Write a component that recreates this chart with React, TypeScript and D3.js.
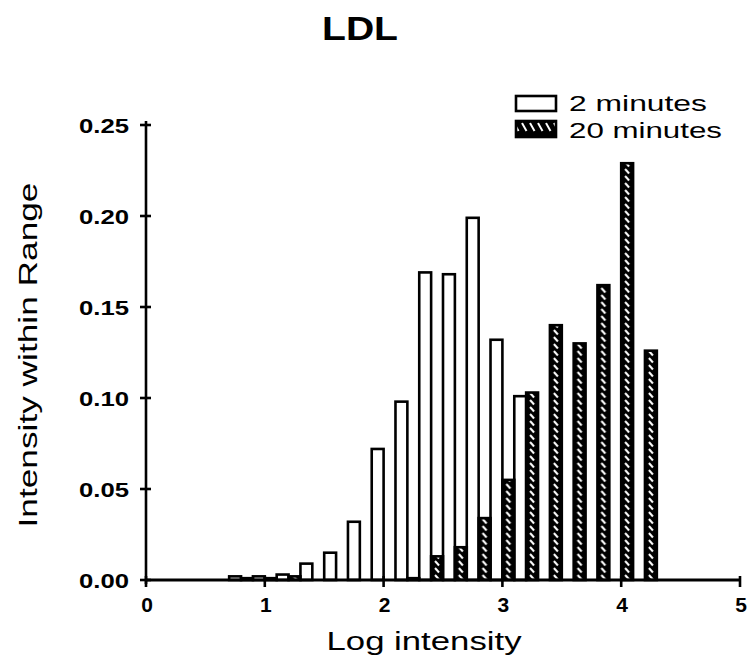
import React from "react";
import * as d3 from "d3";

const binCenters = [0.8, 1.0, 1.2, 1.4, 1.6, 1.8, 2.0, 2.2, 2.4, 2.6, 2.8, 3.0, 3.2, 3.4, 3.6, 3.8, 4.0, 4.2];
const twoMinutes = [0.002, 0.002, 0.003, 0.009, 0.015, 0.032, 0.072, 0.098, 0.169, 0.168, 0.199, 0.132, 0.101, 0, 0, 0, 0, 0];
const twentyMinutes = [0.001, 0.001, 0.002, 0, 0, 0, 0, 0.001, 0.013, 0.018, 0.034, 0.055, 0.103, 0.14, 0.13, 0.162, 0.229, 0.126];
const xTicks = [0, 1, 2, 3, 4, 5];
const yTicks = [0, 0.05, 0.1, 0.15, 0.2, 0.25];
const seriesNames = ["2 minutes", "20 minutes"];
const title = "LDL";
const xTitle = "Log intensity";
const yTitle = "Intensity within Range";

const W = 749;
const H = 664;
const x = d3.scaleLinear().domain([0, 5]).range([146, 740]);
const y = d3.scaleLinear().domain([0, 0.25]).range([580, 125]);
const halfBin = 0.1;
const font = "'Liberation Sans', Arial, Helvetica, sans-serif";

export default function App() {
  const bw = x(halfBin) - x(0);
  const fmt = d3.format(".2f");
  return (
    <svg width={W} height={H} style={{ position: "absolute", left: 0, top: 0, background: "#fff" }}>
      <defs>
        <pattern id="hatch" patternUnits="userSpaceOnUse" x={x(0)} y={0} width={bw} height={7}>
          <rect width={bw} height={7} fill="#000" />
          <line x1={bw / 2 - 2} y1={1} x2={bw / 2 + 2} y2={5.5} stroke="#fff" strokeWidth={2} />
        </pattern>
        <pattern id="hatchLegend" patternUnits="userSpaceOnUse" x={0} y={0} width={8} height={17}>
          <rect width={8} height={17} fill="#000" />
          <line x1={2} y1={4} x2={6.5} y2={12} stroke="#fff" strokeWidth={2} />
        </pattern>
      </defs>

      {/* title */}
      <text x={360} y={40} textAnchor="middle" fontFamily={font} fontWeight="bold" fontSize={33} textLength={76} lengthAdjust="spacingAndGlyphs">
        {title}
      </text>

      {/* bars: 2 minutes */}
      {binCenters.map((c, i) => (
        <rect
          key={"a" + i}
          x={x(c - halfBin)}
          y={y(twoMinutes[i])}
          width={bw}
          height={y(0) - y(twoMinutes[i])}
          fill="#fff"
          stroke="#000"
          strokeWidth={2.6}
        />
      ))}
      {/* bars: 20 minutes */}
      {binCenters.map((c, i) => (
        <rect
          key={"b" + i}
          x={x(c)}
          y={y(twentyMinutes[i])}
          width={bw}
          height={y(0) - y(twentyMinutes[i])}
          fill="url(#hatch)"
          stroke="#000"
          strokeWidth={2.6}
        />
      ))}

      {/* axes */}
      <line x1={x(0)} y1={y(0)} x2={x(5)} y2={y(0)} stroke="#000" strokeWidth={3} />
      <line x1={x(0)} y1={y(0) + 4} x2={x(0)} y2={y(0.25) - 4} stroke="#000" strokeWidth={2.6} />
      {yTicks.map((t) => (
        <g key={"yt" + t}>
          <line x1={x(0) - 6} x2={x(0) + 5} y1={y(t)} y2={y(t)} stroke="#000" strokeWidth={2.6} />
          <text x={129} y={y(t) + 8} textAnchor="end" fontFamily={font} fontWeight="bold" fontSize={21} textLength={50} lengthAdjust="spacingAndGlyphs">
            {fmt(t)}
          </text>
        </g>
      ))}
      {xTicks.map((t) => (
        <g key={"xt" + t}>
          <line x1={x(t)} x2={x(t)} y1={y(0) - 4} y2={y(0) + 7} stroke="#000" strokeWidth={2.6} />
          <text x={x(t) + 1} y={612} textAnchor="middle" fontFamily={font} fontWeight="bold" fontSize={21}>
            {t}
          </text>
        </g>
      ))}

      {/* axis titles */}
      <text x={424} y={650} textAnchor="middle" fontFamily={font} fontSize={25} textLength={195} lengthAdjust="spacingAndGlyphs">
        {xTitle}
      </text>
      <text
        transform={`translate(37, 355) rotate(-90)`}
        textAnchor="middle"
        fontFamily={font}
        fontSize={26}
        textLength={345}
        lengthAdjust="spacingAndGlyphs"
      >
        {yTitle}
      </text>

      {/* legend */}
      <rect x={516} y={96} width={40} height={15} fill="#fff" stroke="#000" strokeWidth={2.6} />
      <text x={569} y={111} fontFamily={font} fontSize={22} textLength={138} lengthAdjust="spacingAndGlyphs">
        {seriesNames[0]}
      </text>
      <rect x={516} y={121} width={40} height={16} fill="url(#hatchLegend)" stroke="#000" strokeWidth={2.6} />
      <text x={569} y={138} fontFamily={font} fontSize={22} textLength={153} lengthAdjust="spacingAndGlyphs">
        {seriesNames[1]}
      </text>
    </svg>
  );
}
